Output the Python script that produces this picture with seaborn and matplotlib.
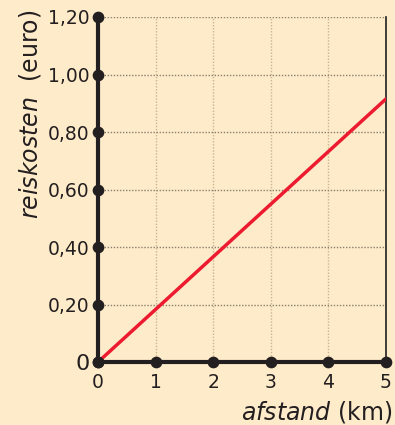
import matplotlib
matplotlib.use("Agg")
import matplotlib.pyplot as plt
import seaborn as sns
import pandas as pd

# data
afstand = [0, 5]
kosten = [0, 0.915]
x_ticks = [0, 1, 2, 3, 4, 5]
y_ticks = [0, 0.2, 0.4, 0.6, 0.8, 1.0, 1.2]
y_labels = ["0", "0,20", "0,40", "0,60", "0,80", "1,00", "1,20"]

bg = "#FEEBC9"
dark = "#231F20"
red = "#EC1B30"

sns.set_style("white")
plt.rcParams["font.family"] = ["DejaVu Sans"]
plt.rcParams["mathtext.fontset"] = "dejavusans"

fig = plt.figure(figsize=(3.95, 4.25), dpi=100, facecolor=bg)
ax = fig.add_axes([0.248, 0.148, 0.729, 0.812])
ax.set_facecolor(bg)

df = pd.DataFrame({"afstand": afstand, "kosten": kosten})

# grid
for x in x_ticks[1:-1]:
    ax.axvline(x, color="#C9B58F", lw=1, ls=(0, (1, 1.2)), zorder=1)
for y in y_ticks[1:]:
    ax.axhline(y, color="#8A7F70", lw=1, ls=(0, (1, 1.2)), zorder=1)

sns.lineplot(data=df, x="afstand", y="kosten", color=red, lw=2.5, ax=ax, zorder=3)

ax.set_xlim(0, 5)
ax.set_ylim(0, 1.2)

ax.spines["top"].set_visible(False)
ax.spines["left"].set_linewidth(3)
ax.spines["bottom"].set_linewidth(3)
ax.spines["left"].set_color(dark)
ax.spines["bottom"].set_color(dark)
ax.spines["right"].set_linewidth(1.2)
ax.spines["right"].set_color(dark)

# dots on the axes at each tick
ax.scatter(x_ticks, [0] * len(x_ticks), s=55, color=dark, clip_on=False, zorder=5)
ax.scatter([0] * len(y_ticks), y_ticks, s=55, color=dark, clip_on=False, zorder=5)

ax.set_xticks(x_ticks)
ax.set_xticklabels([str(v) for v in x_ticks])
ax.set_yticks(y_ticks)
ax.set_yticklabels(y_labels)
ax.tick_params(length=0, labelsize=13.5, colors=dark, pad=6)
ax.tick_params(axis="x", pad=8)
ax.get_yticklabels()[0].set_fontsize(16)

ax.set_xlabel(r"$\it{afstand}$ (km)", fontsize=17, color=dark, loc="right")
ax.xaxis.set_label_coords(1.022, -0.106)
ax.set_ylabel(r"$\it{reiskosten}$  (euro)", fontsize=17, color=dark, loc="top")
ax.yaxis.set_label_coords(-0.19, 1.02)

fig.savefig("out.png", dpi=100, facecolor=bg)
